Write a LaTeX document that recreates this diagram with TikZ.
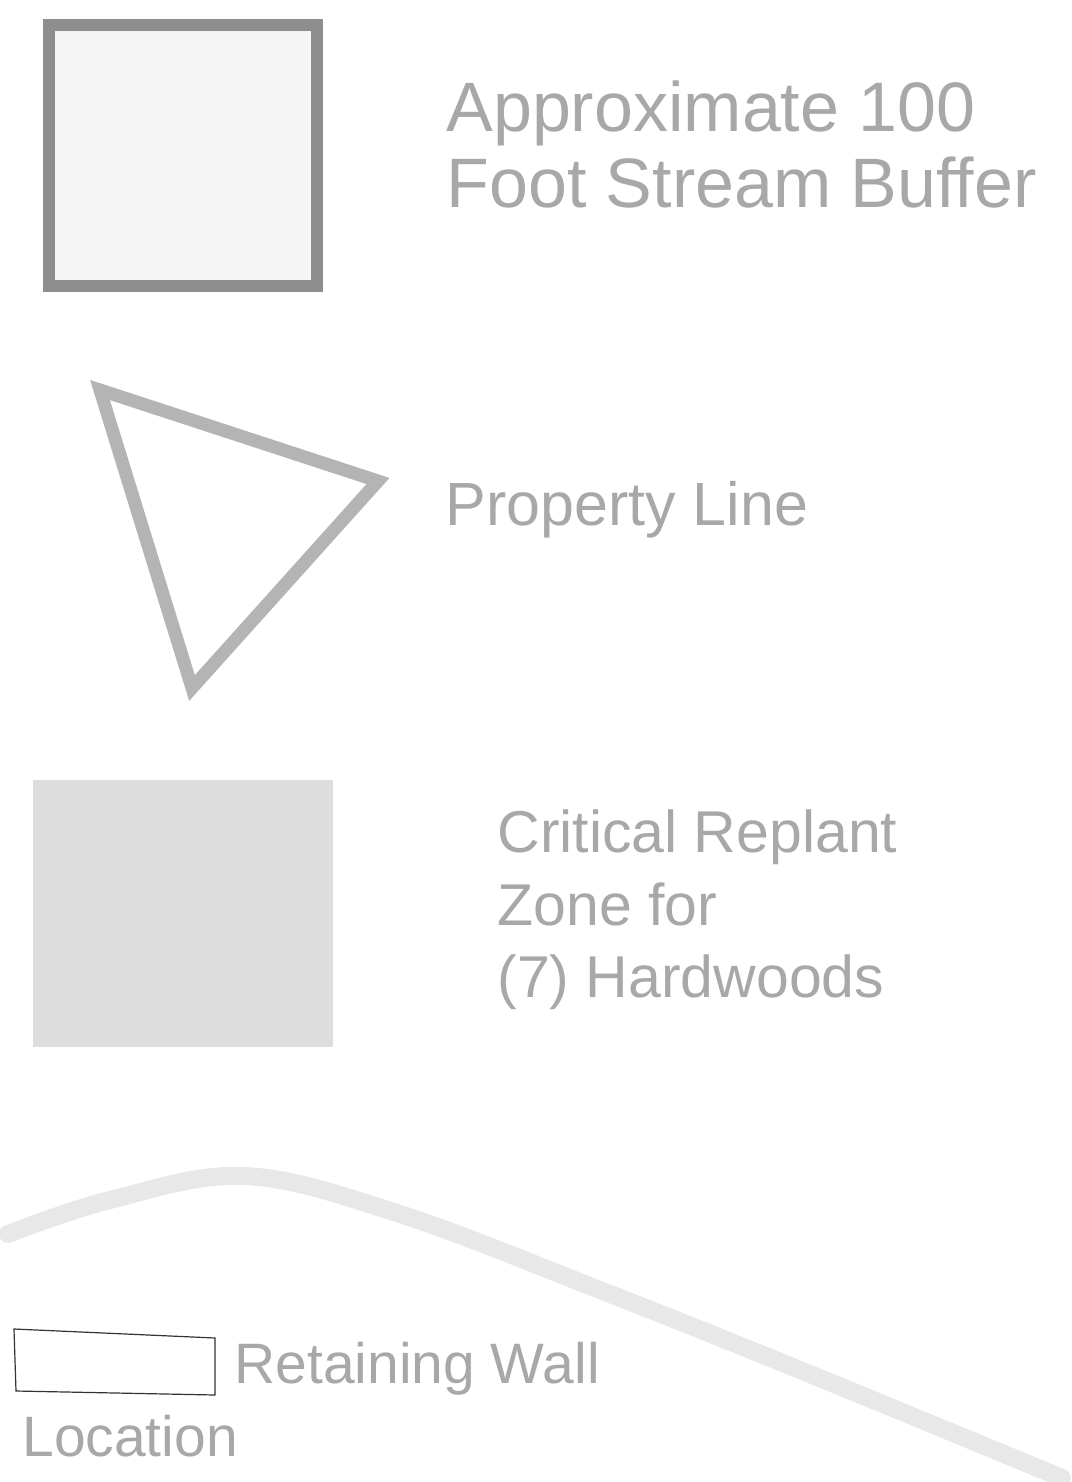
\documentclass[tikz,border=0pt]{standalone}
\usepackage{fontspec}
\setmainfont{Liberation Sans}
\definecolor{txtgray}{HTML}{A8A8A8}
\definecolor{boxgray}{HTML}{8E8E8E}
\definecolor{boxfill}{HTML}{F5F5F5}
\definecolor{trigray}{HTML}{B4B4B4}
\definecolor{zonefill}{HTML}{DDDDDD}
\definecolor{curvegray}{HTML}{E8E8E8}
\tikzset{
  label/.style={anchor=base west, inner sep=0pt, text=txtgray, align=left},
}
\begin{document}
\begin{tikzpicture}[x=0.5pt,y=-0.5pt]
\useasboundingbox (0,0) rectangle (1071,1482);
% stream buffer square
\draw[draw=boxgray, fill=boxfill, line width=6pt] (49,25) rectangle (317,286);
\node[label, font=\fontsize{35}{38}\selectfont] (buffer1) at (446,132) {Approximate 100};
\node[label, font=\fontsize{35}{38}\selectfont] (buffer2) at (446,208) {Foot Stream Buffer};
% property line triangle
\draw[draw=trigray, line width=6.5pt, line join=miter] (100,390) -- (378,481) -- (192,688) -- cycle;
\node[label, font=\fontsize{30.5}{36}\selectfont] (property) at (445,525) {Property Line};
% critical replant zone
\fill[zonefill] (33,780) rectangle (333,1047);
\node[label, font=\fontsize{29.5}{36}\selectfont] (crit1) at (497,852) {Critical Replant};
\node[label, font=\fontsize{29.5}{36}\selectfont] (crit2) at (497,925) {Zone for};
\node[label, font=\fontsize{29.5}{36}\selectfont] (crit3) at (497,997) {(7) Hardwoods};
% faint curve
\draw[curvegray, line width=9pt, line cap=round] plot[smooth, tension=0.6] coordinates {(8,1234) (110,1200) (245,1176) (400,1214) (600,1290) (800,1370) (1062,1478)};
% retaining wall
\draw[draw=black!80, line width=0.6pt] (14,1329) -- (215,1338) -- (215,1395) -- (16,1391) -- cycle;
\node[label, font=\fontsize{28.5}{34}\selectfont] (wall) at (234,1383) {Retaining Wall};
\node[label, font=\fontsize{28.5}{34}\selectfont] (loc) at (22,1456) {Location};
\end{tikzpicture}
\end{document}
